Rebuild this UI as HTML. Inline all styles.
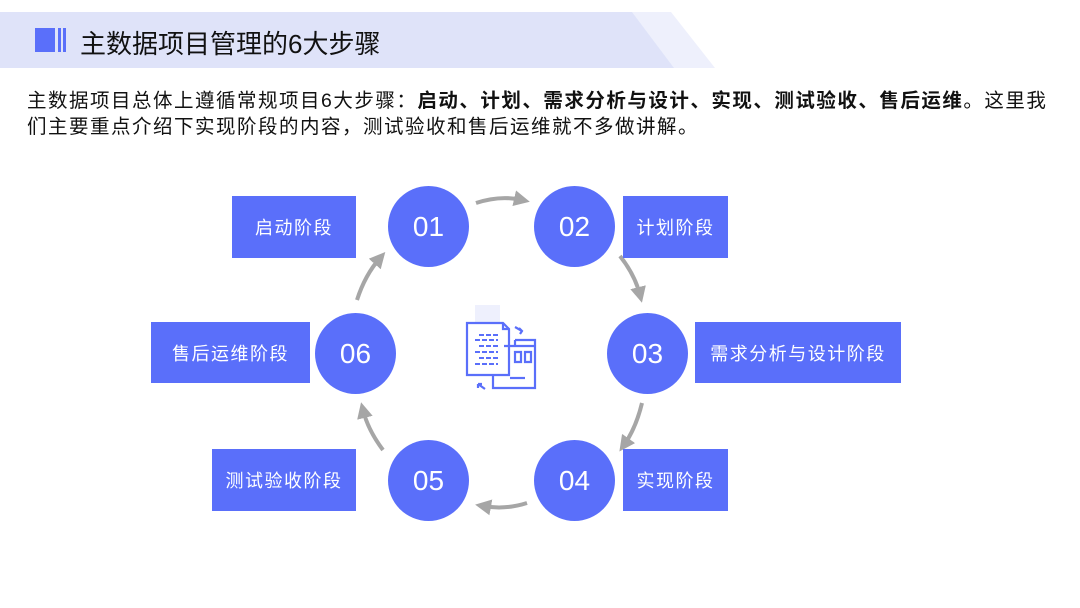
<!DOCTYPE html>
<html><head><meta charset="utf-8"><style>
body{margin:0;width:1080px;height:608px;background:#fff;position:relative;overflow:hidden;font-family:"Liberation Sans","Noto Sans CJK SC",sans-serif;}
.abs{position:absolute}
.box{position:absolute;background:#5a6ffa;color:#fff;font-size:18px;display:flex;align-items:center;justify-content:center;letter-spacing:1.5px}
.c{position:absolute;width:81px;height:81px;border-radius:50%;background:#5a6ffa;color:#fff;font-size:28px;display:flex;align-items:center;justify-content:center}
</style></head><body>
<svg class="abs" style="left:0;top:0" width="1080" height="80">
<polygon points="0,12 671,12 715,68 0,68" fill="#eef0fc"/>
<polygon points="0,12 632,12 674,68 0,68" fill="#dfe3f9"/>
<rect x="35" y="28" width="20" height="24" fill="#5a6ffa"/>
<rect x="58" y="28" width="3" height="24" fill="#5a6ffa"/>
<rect x="63" y="28" width="3" height="24" fill="#5a6ffa"/>
</svg>
<div class="abs" style="left:80px;top:24px;font-size:26px;color:#111">主数据项目管理的6大步骤</div>
<div class="abs" style="left:27px;top:88px;font-size:19.5px;line-height:26px;color:#111;white-space:nowrap;letter-spacing:1.5px">主数据项目总体上遵循常规项目6大步骤：<b>启动、计划、需求分析与设计、实现、测试验收、售后运维</b>。这里我<br>们主要重点介绍下实现阶段的内容，测试验收和售后运维就不多做讲解。</div>

<svg class="abs" style="left:0;top:0" width="1080" height="608">
<defs><marker id="a" markerWidth="4" markerHeight="4" refX="2" refY="2" orient="auto"><path d="M0,0 L4,2 L0,4 Z" fill="#a6a6a6"/></marker></defs>
<g stroke="#a6a6a6" stroke-width="4" fill="none" marker-end="url(#a)">
<path d="M476,203 Q500,195 522,200"/>
<path d="M620,256 Q635,275 640,295"/>
<path d="M642,403 Q636,428 624,445"/>
<path d="M527,503 Q505,510 483,506"/>
<path d="M383,450 Q368,430 363,410"/>
<path d="M357,300 Q365,275 380,258"/>
</g>
<g stroke="#5a6ffa" stroke-width="2.2" fill="none">
<rect x="475" y="305" width="25" height="22" fill="#eef0fd" stroke="none"/>
<path d="M467,323 H503 L509,329 V375 H467 Z" fill="#fff"/>
<path d="M503,323 V329 H509"/>
<path d="M515,340 H535 V388 H493 V375"/>
<path d="M515,340 V347 M504,346 H535"/>
<path d="M515,352 H521 V362 H515 Z M525,352 H531 V362 H525 Z"/>
<path d="M510,378 H525"/>
<path d="M515,327 L522,331 M519,328 L522,331 L520,334" />
<path d="M478,384 L485,389 M478,384 L482,384 M478,384 L478,388"/>
</g>
<g stroke="#5a6ffa" stroke-width="2" stroke-dasharray="5 2">
<path d="M479,335 H498 M475,340 H498 M479,346 H498 M475,352 H498 M479,358 H498 M475,364 H498"/>
</g>
</svg>

<div class="box" style="left:232px;top:196px;width:124px;height:62px">启动阶段</div>
<div class="box" style="left:623px;top:196px;width:105px;height:62px">计划阶段</div>
<div class="box" style="left:695px;top:322px;width:206px;height:61px">需求分析与设计阶段</div>
<div class="box" style="left:623px;top:449px;width:105px;height:62px">实现阶段</div>
<div class="box" style="left:212px;top:449px;width:144px;height:62px">测试验收阶段</div>
<div class="box" style="left:151px;top:322px;width:159px;height:61px">售后运维阶段</div>

<div class="c" style="left:388px;top:186px">01</div>
<div class="c" style="left:534px;top:186px">02</div>
<div class="c" style="left:607px;top:313px">03</div>
<div class="c" style="left:534px;top:440px">04</div>
<div class="c" style="left:388px;top:440px">05</div>
<div class="c" style="left:315px;top:313px">06</div>
</body></html>
